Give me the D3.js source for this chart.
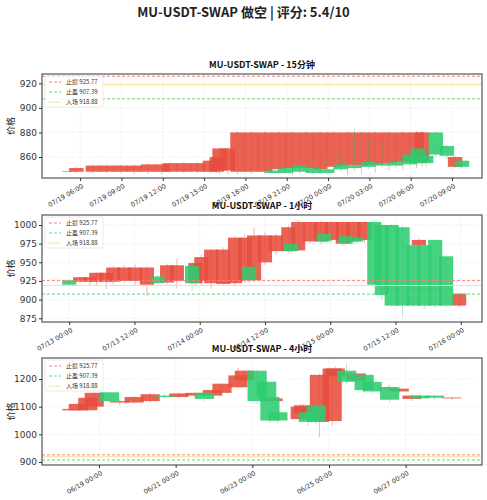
<!DOCTYPE html>
<html><head><meta charset="utf-8">
<script src="https://cdn.jsdelivr.net/npm/d3@7"></script>
<style>body{margin:0;background:#fff;font-family:"Noto Sans CJK SC","DejaVu Sans",sans-serif}</style>
</head><body><svg id="c" width="487" height="500"></svg>
<script>
// Levels
const stopLoss = 925.77, takeProfit = 907.39, entry = 918.88;
// Panel 1 (15m) — hours from 07/19 00:00
const p1T = [4.7,5.2,6.4,7.4,8.4,9.4,10.4,11.4,12,13,14,14.9,15.4,15.6,16.2,16.9,17.9,18.9,19.4,19.9,20.4,20.9,21.4,21.9,22.4,22.9,23.4,23.9,24.4,24.9,25.4,25.9,26.4,26.9,27.4,27.9,28.4,28.9,29.4,29.9,30,30.3,30.6,31.3,32.1,32.7,33.2];
const p1O = [848,851,853,853,853,853,854,854,855,855,855,857,860,867,867,880,880,880,847,880,847,880,848,880,847,880,847,880,850,880,851,880,852,880,853,880,853,880,854,880,855,880,855,862,861,860,852];
const p1C = [848.6,848,848,848,848,848,848,848,848,848,848,848,848,849,849,848,848,848,849,850,851,851,853,851,851,850,850,852,854,853,853,853,856,854,855,855,856,856,862,856,867,856,861,880,869,852,857];
const p1H = [849,852,854,854,854,854,855,855,856,856,856,858,861,868,868,881,881,881,851,881,853,881,855,881,857,881,860,881,865,881,883,881,875,881,870,881,862,881,866,881,868,881,864,881,870,861,858];
const p1L = [847,847,847,847,847,846,846,846,847,847,847,847,847,846,846,846,846,846,846,846,846,845,846,847,846,846,846,847,848,845,849,846,850,847,851,849,851,850,852,851,853,852,852,860,858,851,851];
// Panel 2 (1h) — hours from 07/13 00:00
const p2T = [-1.3,0.7,2.5,3.7,5.5,6.8,8.8,10.8,13,15,16.7,18.5,21.3,21.9,23,24.8,27,29.2,31,31.8,32.7,34.7,36.7,39,39.5,40.8,43,45,45.5,47,49,49.5,51,51.5,53,54.8,56.2,58,60,62,63,64,66,68,70.4];
const p2O = [920,930,930,936,936,943,943,943,943,922,946,946,922,949,957,967,967,983,983,926,986,986,986,997,965,1004,1004,1004,978,1004,1004,975,1004,978,1004,920,906,892,892,892,980,892,892,892,908];
const p2C = [926,924,924,924,924,924,925,925,920,931,923,925,945,922,925,922,921,922,926,944,926,950,965,965,975,966,978,978,988,980,975,985,978,983,980,1004,1000,1000,997,973,973,973,980,958,892];
const p2H = [927,931,932,937,938,945,946,947,945,933,948,955,950,952,960,968,970,985,988,946,997,990,988,999,978,1006,1005,1006,990,1005,1005,987,1005,985,1005,1006,1001,1001,999,980,982,975,981,960,909];
const p2L = [918,922,920,918,914,920,922,918,905,918,920,915,912,918,920,915,920,918,922,922,924,946,960,962,962,964,975,974,976,977,972,972,975,975,976,918,900,890,876,890,970,888,889,890,890];
// Panel 3 (4h) — hours from 06/19 00:00
const p3T = [-23,-19,-13,-9,0.6,7,16,26,35,44,54,60,65,71,81,85,93,99,101,103,106,120,122,125,130,132,140,142,149,155,160,165,175,176,182,190,195,204,215];
const p3O = [1092,1110,1132,1150,1120,1120,1135,1145,1135,1148,1150,1128,1160,1183,1213,1230,1120,1130,1050,1130,1050,1100,1105,1045,1045,1215,1238,1238,1190,1220,1160,1155,1170,1125,1165,1140,1130,1132,1133];
const p3C = [1087,1087,1087,1100,1152,1115,1115,1120,1140,1135,1140,1150,1140,1150,1170,1195,1230,1190,1135,1120,1080,1055,1075,1080,1105,1045,1048,1210,1230,1195,1215,1190,1165,1170,1155,1128,1140,1140,1130];
const p3H = [1095,1115,1135,1155,1155,1125,1140,1150,1145,1152,1152,1155,1165,1185,1240,1235,1235,1195,1140,1135,1085,1110,1110,1085,1110,1220,1240,1245,1255,1225,1220,1200,1175,1180,1170,1145,1145,1142,1135];
const p3L = [1085,1085,1085,1095,1110,1105,1110,1115,1130,1130,1135,1120,1130,1140,1165,1180,1110,1120,1040,1110,1040,1050,1065,1030,1035,990,1030,1200,1180,1185,1150,1150,1160,1115,1150,1120,1125,1125,1125];

const panels = [
  {title:"MU-USDT-SWAP - 15分钟", base:new Date(2024,6,19,0), T:p1T,O:p1O,C:p1C,H:p1H,L:p1L, w:1.05,
   xd:[3.23,35.18], yd:[842.9,927.6], top:74, bot:178, yt:[860,880,900,920],
   xt:[6,9,12,15,18,21,24,27,30,33], fmt:"%m/%d %H:%M"},
  {title:"MU-USDT-SWAP - 1小时", base:new Date(2024,6,13,0), T:p2T,O:p2O,C:p2C,H:p2H,L:p2L, w:2.6,
   xd:[-5,75.9], yd:[870,1013.4], top:215, bot:322, yt:[875,900,925,950,975,1000],
   xt:[0,12,24,36,48,60,72], fmt:"%m/%d %H:%M"},
  {title:"MU-USDT-SWAP - 4小时", base:new Date(2024,5,19,0), T:p3T,O:p3O,C:p3C,H:p3H,L:p3L, w:12,
   xd:[-35.7,239.8], yd:[889.2,1275.9], top:358, bot:465, yt:[900,1000,1100,1200],
   xt:[0,48,96,144,192], fmt:"%m/%d %H:%M"}
];
const svg = d3.select("#c");
svg.append("text").attr("x",243.5).attr("y",17).attr("text-anchor","middle")
  .attr("font-size",13).attr("font-weight","bold").attr("fill","#222").text("MU-USDT-SWAP 做空 | 评分: 5.4/10");
const L = 42, R = 482;
const RED = "#e74c3c", GREEN = "#2ecc71";
panels.forEach((p,pi)=>{
  const hd = h => new Date(p.base.getTime()+h*3600e3);
  const x = d3.scaleTime().domain(p.xd.map(hd)).range([L,R]);
  const y = d3.scaleLinear().domain(p.yd).range([p.bot,p.top]);
  const g = svg.append("g");
  const cid = "clip"+pi;
  g.append("clipPath").attr("id",cid).append("rect").attr("x",L).attr("y",p.top).attr("width",R-L).attr("height",p.bot-p.top);
  g.selectAll(".gy").data(p.yt).join("line").attr("x1",L).attr("x2",R).attr("y1",d=>y(d)).attr("y2",d=>y(d))
    .attr("stroke","#ddd").attr("stroke-width",0.5).attr("stroke-dasharray","1.5,1.5");
  g.selectAll(".gx").data(p.xt).join("line").attr("y1",p.top).attr("y2",p.bot).attr("x1",d=>x(hd(d))).attr("x2",d=>x(hd(d)))
    .attr("stroke","#ddd").attr("stroke-width",0.5).attr("stroke-dasharray","1.5,1.5");
  const cg = g.append("g").attr("clip-path",`url(#${cid})`);
  const idx = d3.range(p.T.length);
  const reds = idx.filter(i=>p.C[i]<p.O[i]), greens = idx.filter(i=>p.C[i]>=p.O[i]);
  [[reds,RED],[greens,GREEN]].forEach(([ids,col])=>{
    ids.forEach(i=>{
      const x0 = x(hd(p.T[i])), x1 = x(hd(p.T[i]+p.w));
      cg.append("line").attr("x1",(x0+x1)/2).attr("x2",(x0+x1)/2).attr("y1",y(p.H[i])).attr("y2",y(p.L[i]))
        .attr("stroke",col).attr("stroke-width",0.8).attr("opacity",0.5);
      const yt = y(Math.max(p.O[i],p.C[i])), yb = y(Math.min(p.O[i],p.C[i]));
      cg.append("rect").attr("x",x0).attr("width",x1-x0).attr("y",yt).attr("height",Math.max(0.8,yb-yt))
        .attr("fill",col).attr("opacity",0.88);
    });
  });
  const lv = [[stopLoss,"#ff7b7b","3,2","止损 "+stopLoss],[takeProfit,"#5cd67a","3,2","止盈 "+takeProfit],[entry,"#ffe08a",null,"入场 "+entry]];
  lv.forEach(([v,col,da])=>{
    if(v<p.yd[0]||v>p.yd[1]) return;
    cg.append("line").attr("x1",L).attr("x2",R).attr("y1",y(v)).attr("y2",y(v)).attr("stroke",col)
      .attr("stroke-width",1).attr("stroke-dasharray",da);
  });
  g.append("rect").attr("x",L).attr("y",p.top).attr("width",R-L).attr("height",p.bot-p.top)
    .attr("fill","none").attr("stroke","#555").attr("stroke-width",1.2);
  const ya = g.append("g").attr("transform",`translate(${L},0)`)
    .call(d3.axisLeft(y).tickValues(p.yt).tickFormat(d3.format("d")).tickSize(3).tickPadding(2));
  ya.select(".domain").remove();
  ya.selectAll("text").attr("font-size",9).attr("fill","#333").attr("font-family","DejaVu Sans");
  ya.selectAll("line").attr("stroke","#333");
  const xa = g.append("g").attr("transform",`translate(0,${p.bot})`)
    .call(d3.axisBottom(x).tickValues(p.xt.map(hd)).tickFormat(d3.timeFormat(p.fmt)).tickSize(3));
  xa.select(".domain").remove();
  xa.selectAll("line").attr("stroke","#333");
  xa.selectAll("text").attr("font-size",6.5).attr("fill","#333").attr("font-family","DejaVu Sans")
    .attr("text-anchor","end").attr("dx","-0.3em").attr("dy","0.6em").attr("transform","rotate(-30)");
  g.append("text").attr("transform",`translate(14,${(p.top+p.bot)/2}) rotate(-90)`).attr("text-anchor","middle")
    .attr("font-size",9).attr("fill","#222").text("价格");
  g.append("text").attr("x",(L+R)/2).attr("y",p.top-6).attr("text-anchor","middle").attr("font-size",9)
    .attr("font-weight","bold").attr("fill","#111").text(p.title);
  const lg = g.append("g").attr("transform",`translate(${L+3},${p.top+2})`);
  lg.append("rect").attr("width",58).attr("height",31).attr("rx",2).attr("fill","#fff").attr("fill-opacity",0.85)
    .attr("stroke","#ddd").attr("stroke-width",0.6);
  lv.forEach(([v,col,da,lab],k)=>{
    const yy = 6+k*10;
    lg.append("line").attr("x1",4).attr("x2",16).attr("y1",yy).attr("y2",yy).attr("stroke",col).attr("stroke-width",1).attr("stroke-dasharray",da);
    lg.append("text").attr("x",21).attr("y",yy+2.2).attr("font-size",6).attr("fill","#333").text(lab);
  });
});
</script></body></html>
